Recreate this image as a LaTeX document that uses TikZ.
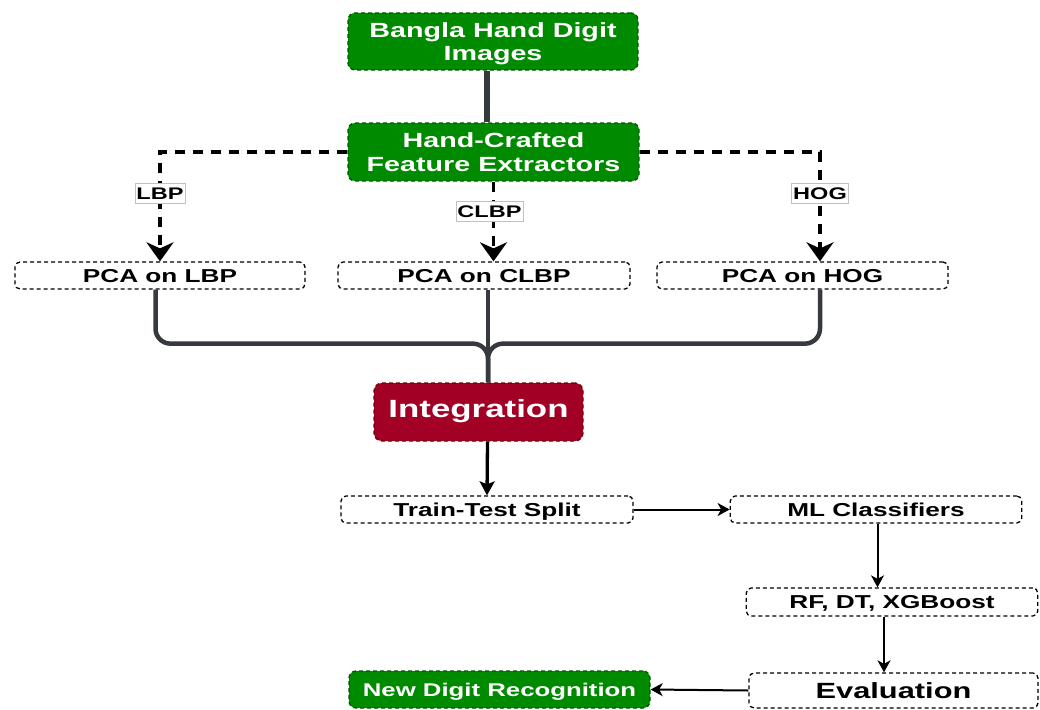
\documentclass[tikz,border=0pt]{standalone}
\usepackage{fontspec}
\setmainfont{Liberation Sans}[FakeStretch=1.4]
\usetikzlibrary{arrows.meta,calc}
\definecolor{boxgreen}{HTML}{008A00}
\definecolor{boxgreenline}{HTML}{005700}
\definecolor{boxred}{HTML}{A20025}
\definecolor{boxredline}{HTML}{6F0000}
\definecolor{busgray}{HTML}{36393D}
\definecolor{lblgray}{HTML}{C0C0C0}
% two centred lines whose cap tops and last baseline are centred in the node
\newcommand{\twolines}[2]{\begin{tabular}[b]{@{}c@{}}#1\\#2\end{tabular}}
\tikzset{
  x=1pt, y=-1pt,
  boxline/.style={line width=1.3pt, dash pattern=on 4pt off 3pt},
  stagebox/.style={draw=black, boxline, rounded corners=5pt, fill=white,
    inner sep=0pt, text height=13.4pt, text depth=0pt,
    font=\bfseries\fontsize{18.7}{22}\selectfont},
  greenbox/.style={draw=boxgreenline, boxline, rounded corners=7pt,
    fill=boxgreen, text=white, inner sep=0pt, text depth=0pt,
    font=\bfseries\fontsize{20.5}{23.5}\selectfont},
  redbox/.style={draw=boxredline, boxline, rounded corners=8pt,
    fill=boxred, text=white, inner sep=0pt, text height=17.8pt, text depth=6pt,
    font=\bfseries\fontsize{24.9}{28}\selectfont},
  featlbl/.style={draw=lblgray, line width=0.7pt, fill=white, solid,
    inner xsep=1.5pt, inner ysep=4pt, text height=12pt, text depth=0pt,
    font=\bfseries\fontsize{16.8}{18}\selectfont},
  featflow/.style={line width=3.5pt, dash pattern=on 10pt off 8pt,
    -{Stealth[length=19pt, width=27pt, inset=6pt]}},
  bus/.style={line width=4.5pt, draw=busgray},
  bigflow/.style={line width=3.3pt, -{Stealth[length=14pt, width=15pt, inset=3pt]}},
  flow/.style={line width=2pt, -{Stealth[length=12pt, width=13pt, inset=3.5pt]}},
}
\begin{document}
\begin{tikzpicture}
\useasboundingbox (0,0) rectangle (1040,709);

% inputs and feature extraction
\node[greenbox, minimum width=290pt, minimum height=57pt, text height=38.2pt]
  (imgs) at (493,41.5) {\twolines{Bangla Hand Digit}{Images}};
\node[greenbox, minimum width=291pt, minimum height=58pt, text height=38.2pt]
  (hcfe) at (493.5,152) {\twolines{Hand-Crafted}{Feature Extractors}};

% reduced feature sets
\node[stagebox, minimum width=290pt, minimum height=27pt] (pcal) at (160,275.5) {PCA on LBP};
\node[stagebox, minimum width=292pt, minimum height=27pt] (pcac) at (484,275.5) {PCA on CLBP};
\node[stagebox, minimum width=291pt, minimum height=27pt] (pcah) at (802.5,275.5) {PCA on HOG};

% fusion
\node[redbox, minimum width=209pt, minimum height=58pt] (integ) at (478.5,412) {Integration};

% training and evaluation
\node[stagebox, minimum width=292pt, minimum height=27pt] (tts) at (487,509.5) {Train-Test Split};
\node[stagebox, minimum width=291.5pt, minimum height=27pt] (mlc) at (876,509.5) {ML Classifiers};
\node[stagebox, minimum width=291.5pt, minimum height=28pt] (rfdt) at (892,602) {RF, DT, XGBoost};
\node[stagebox, minimum width=289pt, minimum height=35pt, text height=15.8pt,
  font=\bfseries\fontsize{22}{26}\selectfont] (eval) at (893.5,690.5) {Evaluation};
\node[greenbox, minimum width=301pt, minimum height=37pt, text height=13.2pt,
  font=\bfseries\fontsize{18.4}{22}\selectfont] (newd) at (499.5,689.5) {New Digit Recognition};

% connectors
\draw[bus, line width=5.5pt] ([xshift=-6]imgs.south) -- ([xshift=-6]imgs.south |- hcfe.north);

\draw[featflow] (hcfe.west) -| (pcal.north)
  node[featlbl, pos=0.69] (lbpl) {LBP};
\draw[featflow] (hcfe.south) -- (hcfe.south |- pcac.north)
  node[featlbl, pos=0.37, xshift=-4pt] (clbpl) {CLBP};
\draw[featflow] (hcfe.east) -| ([xshift=17.5]pcah.north)
  node[featlbl, pos=0.69] (hogl) {HOG};

\draw[bus, rounded corners=15pt] ([xshift=-4.5]pcal.south) -- ++(0,54) -| ([xshift=9.5]integ.north);
\draw[bus, rounded corners=15pt] ([xshift=17.5]pcah.south) -- ++(0,54) -| ([xshift=9.5]integ.north);
\draw[bus] ([xshift=4]pcac.south) -- ([xshift=9.5]integ.north);

\draw[bigflow] ([xshift=9]integ.south) -- (tts.north);
\draw[flow] (tts.east) -- (mlc.west);
\draw[flow] ([xshift=1.5]mlc.south) -- ([xshift=1.5]mlc.south |- rfdt.north);
\draw[flow] ([xshift=-8]rfdt.south) -- ([xshift=-8]rfdt.south |- eval.north);
\draw[flow] (eval.west) -- (newd.east);
\end{tikzpicture}
\end{document}
